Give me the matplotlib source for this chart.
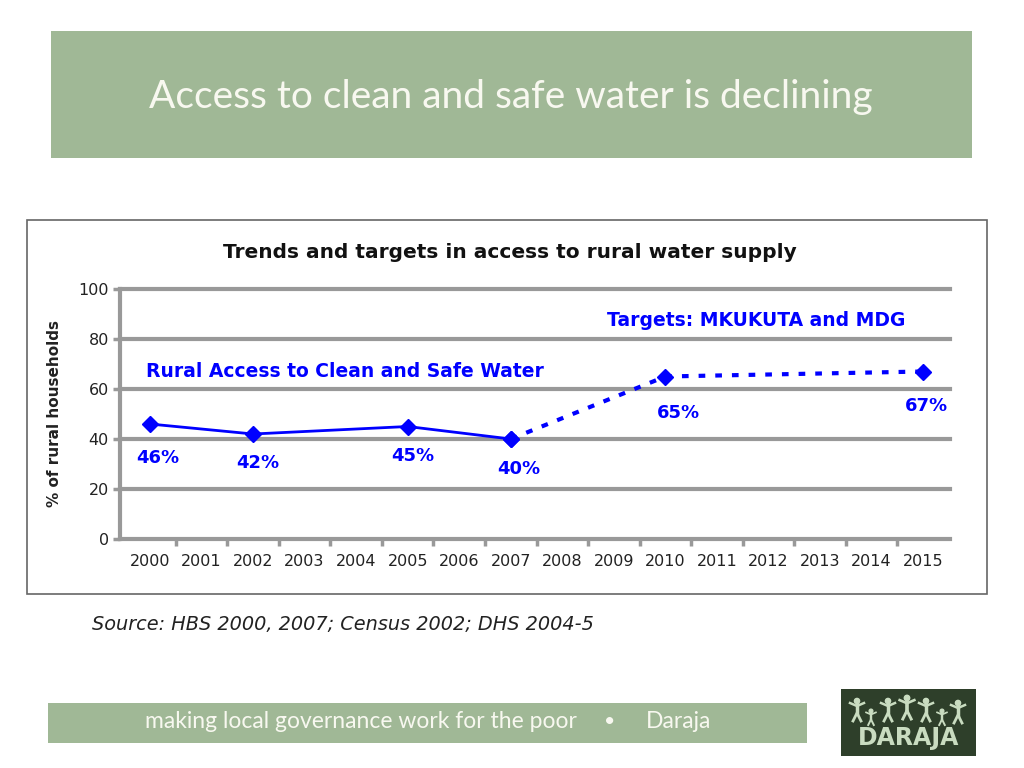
import numpy as np
import matplotlib.pyplot as plt
from matplotlib.patches import Rectangle, Circle

# data
years = np.arange(2000, 2016)
actual_years = [2000, 2002, 2005, 2007]
actual_vals = [46, 42, 45, 40]
target_years = [2007, 2010, 2015]
target_vals = [40, 65, 67]
label_years = [2000, 2002, 2005, 2007, 2010, 2015]
label_texts = ["46%", "42%", "45%", "40%", "65%", "67%"]
label_y = [32.5, 30.5, 33, 28, 50.5, 53]
y_ticks = [0, 20, 40, 60, 80, 100]

W, H = 1024, 768
fig = plt.figure(figsize=(W / 100, H / 100), dpi=100)
fig.patch.set_facecolor("white")

def px(x, y, w, h):
    return (x / W, 1 - (y + h) / H, w / W, h / H)

green = "#a0b896"
blue = "#0000ff"
grey = "#999999"

def band(x, y, w, h, color, **kw):
    bx, by, bw, bh = px(x, y, w, h)
    fig.patches.append(Rectangle((bx, by), bw, bh, transform=fig.transFigure,
                                 facecolor=color, zorder=-1, **kw))

# header band
band(51, 31, 921, 127, green, edgecolor="none")
fig.text(511 / W, 1 - 97 / H, "Access to clean and safe water is declining",
         ha="center", va="center", color="#f8f8f0", fontsize=28, family="Lato")

# chart frame
band(27, 220, 960, 374, "white", edgecolor="#666666", lw=1.2)

fig.text(510 / W, 1 - 252 / H, "Trends and targets in access to rural water supply",
         ha="center", va="center", fontsize=14.5, fontweight="bold",
         family="DejaVu Sans", color="#111111")

ax = fig.add_axes(px(120, 289, 830, 250))
ax.set_facecolor("none")
ax.set_xlim(1999.42, 2015.52)
ax.set_ylim(0, 100)
ax.set_yticks(y_ticks)
ax.set_xticks(years)
ax.set_xticklabels([str(y) for y in years])
ax.set_xticks(years[:-1] + 0.5, minor=True)
for v in y_ticks:
    ax.axhline(v, color=grey, lw=3, zorder=1, clip_on=False)
for s in ["top", "right", "bottom"]:
    ax.spines[s].set_visible(False)
ax.spines["left"].set_color(grey)
ax.spines["left"].set_linewidth(3)
ax.tick_params(axis="y", colors=grey, width=2.5, length=5, labelcolor="#222222",
               labelsize=11.5, pad=3)
ax.tick_params(axis="x", which="major", length=0, labelcolor="#222222",
               labelsize=11.5, pad=11)
ax.tick_params(axis="x", which="minor", colors=grey, width=2.5, length=5)
for lab in ax.get_xticklabels() + ax.get_yticklabels():
    lab.set_family("DejaVu Sans")
ax.set_ylabel("% of rural households", fontsize=11, fontweight="bold",
              family="DejaVu Sans", labelpad=12, color="#222222")

ax.plot(target_years, target_vals, color=blue, lw=3, linestyle=(0, (1.6, 2.4)),
        marker="D", markersize=8.5, zorder=3, clip_on=False)
ax.plot(actual_years, actual_vals, color=blue, lw=2, marker="D", markersize=8.5,
        zorder=4, clip_on=False)

# labels sit a little right of their points
shift = [0.16, 0.1, 0.1, 0.15, 0.25, 0.06]
for x, dx, t, y in zip(label_years, shift, label_texts, label_y):
    ax.text(x + dx, y, t, ha="center", va="center", color=blue, fontsize=13,
            fontweight="bold", family="DejaVu Sans")

ax.text(1999.93, 67, "Rural Access to Clean and Safe Water", ha="left", va="center",
        color=blue, fontsize=13.5, fontweight="bold", family="DejaVu Sans")
ax.text(2011.77, 87.3, "Targets: MKUKUTA and MDG", ha="center", va="center",
        color=blue, fontsize=13.5, fontweight="bold", family="DejaVu Sans")

# source
fig.text(92 / W, 1 - 625 / H, "Source: HBS 2000, 2007; Census 2002; DHS 2004-5",
         ha="left", va="center", fontsize=13.9, style="italic",
         family="DejaVu Sans", color="#222222")

# footer band
band(48, 703, 759, 40, green, edgecolor="none")
fig.text(145 / W, 1 - 722 / H, "making local governance work for the poor",
         ha="left", va="center", color="#f8f8f0", fontsize=16.5, family="Lato")
fig.text(610 / W, 1 - 722 / H, "\u2022", ha="center", va="center", color="#f8f8f0",
         fontsize=14, family="Lato")
fig.text(646 / W, 1 - 722 / H, "Daraja", ha="left", va="center", color="#f8f8f0",
         fontsize=16.5, family="Lato")

# logo: dark box, little figures, name
logo = fig.add_axes(px(841, 689, 135, 67))
logo.set_xlim(0, 135)
logo.set_ylim(67, 0)
logo.axis("off")
logo.add_patch(Rectangle((0, 0), 135, 67, facecolor="#2e3f2a", edgecolor="none"))
pale = "#c9dcc0"
for fx, top, sc in [(16, 12, 1.0), (30, 22, 0.7), (47, 12, 1.0), (66, 9, 1.05),
                    (85, 12, 1.0), (101, 22, 0.7), (117, 14, 1.0)]:
    logo.add_patch(Circle((fx, top), 2.6 * sc, color=pale))
    logo.plot([fx, fx], [top + 3 * sc, top + 12 * sc], color=pale, lw=2.5 * sc)
    logo.plot([fx - 7 * sc, fx, fx + 7 * sc], [top + 2 * sc, top + 5 * sc, top + 2 * sc],
              color=pale, lw=1.8 * sc)
    logo.plot([fx - 4 * sc, fx, fx + 4 * sc], [top + 20 * sc, top + 12 * sc, top + 20 * sc],
              color=pale, lw=2 * sc)
logo.text(67.5, 49, "DARAJA", ha="center", va="center", color=pale,
          fontsize=17, fontweight="bold", family="DejaVu Sans")

fig.savefig("out.png", dpi=100)
